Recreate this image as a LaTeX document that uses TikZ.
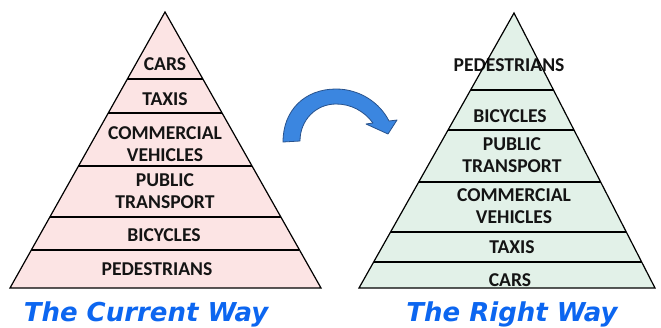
\documentclass[tikz,border=0pt]{standalone}
\usepackage{fontspec}
\setmainfont{Carlito}
\newfontfamily\capfont{DejaVu Sans}
\definecolor{pinkfill}{RGB}{252,228,228}
\definecolor{greenfill}{RGB}{226,241,232}
\definecolor{capblue}{RGB}{12,102,240}
\definecolor{arrowfill}{RGB}{59,134,224}
\definecolor{arrowline}{RGB}{40,82,140}
\definecolor{labeltext}{RGB}{20,20,20}
\tikzset{
  lvl/.style={font=\bfseries\fontsize{19.6}{21.5}\selectfont, text=labeltext, align=center, inner sep=0pt},
  caption/.style={font=\capfont\bfseries\itshape\fontsize{26}{30}\selectfont, text=capblue, inner sep=0pt, anchor=base},
  pyr/.style={draw=black, line width=1.2pt, line join=miter},
  divider/.style={draw=black, line width=1.2pt},
}
\begin{document}
\begin{tikzpicture}[x=1pt,y=-1pt]
\useasboundingbox (0,0) rectangle (661,327);
% left pyramid
\fill[pinkfill] (165,12) -- (321,288) -- (10,288) -- cycle;
\foreach \yy in {79,113,166,217,250}{
  \pgfmathsetmacro{\hw}{(\yy-12)/276*155.5}
  \draw[divider] ({165-\hw},\yy) -- ({165+\hw},\yy);
}
\node[lvl] (lcars) at (165,64) {CARS};
\node[lvl] (ltaxis) at (165,99) {TAXIS};
\node[lvl] (lcomm) at (165,144) {COMMERCIAL\\VEHICLES};
\node[lvl] (lpub) at (165,191) {PUBLIC\\TRANSPORT};
\node[lvl] (lbic) at (164,235) {BICYCLES};
\node[lvl] (lped) at (157,269) {PEDESTRIANS};
\draw[pyr] (165,12) -- (321,288) -- (10,288) -- cycle;
\node[caption] (lcap) at (146,321) {The Current Way};
% right pyramid
\fill[greenfill] (514,13) -- (655,288) -- (359,288) -- cycle;
\foreach \yy in {90,130,182,232,262}{
  \pgfmathsetmacro{\lw}{(\yy-13)/275*155}
  \pgfmathsetmacro{\rw}{(\yy-13)/275*141}
  \draw[divider] ({514-\lw},\yy) -- ({514+\rw},\yy);
}
\node[lvl] (rped) at (509,65) {PEDESTRIANS};
\node[lvl] (rbic) at (510,116) {BICYCLES};
\node[lvl] (rpub) at (512,155) {PUBLIC\\TRANSPORT};
\node[lvl] (rcomm) at (514,206) {COMMERCIAL\\VEHICLES};
\node[lvl] (rtaxis) at (512,247) {TAXIS};
\node[lvl] (rcars) at (510,280) {CARS};
\draw[pyr] (514,13) -- (655,288) -- (359,288) -- cycle;
\node[caption] (rcap) at (512,321) {The Right Way};
% curved arrow
\draw[fill=arrowfill, draw=arrowline, line width=0.8pt, line join=round]
  (283,142) .. controls (283,110) and (305,89) .. (336,89)
  .. controls (360,89) and (380,103) .. (389,121)
  -- (397,120) -- (388,134) -- (366,124) -- (373,123)
  .. controls (364,111) and (351,104) .. (336,104)
  .. controls (316,104) and (300,120) .. (300,141) -- cycle;
\end{tikzpicture}
\end{document}
